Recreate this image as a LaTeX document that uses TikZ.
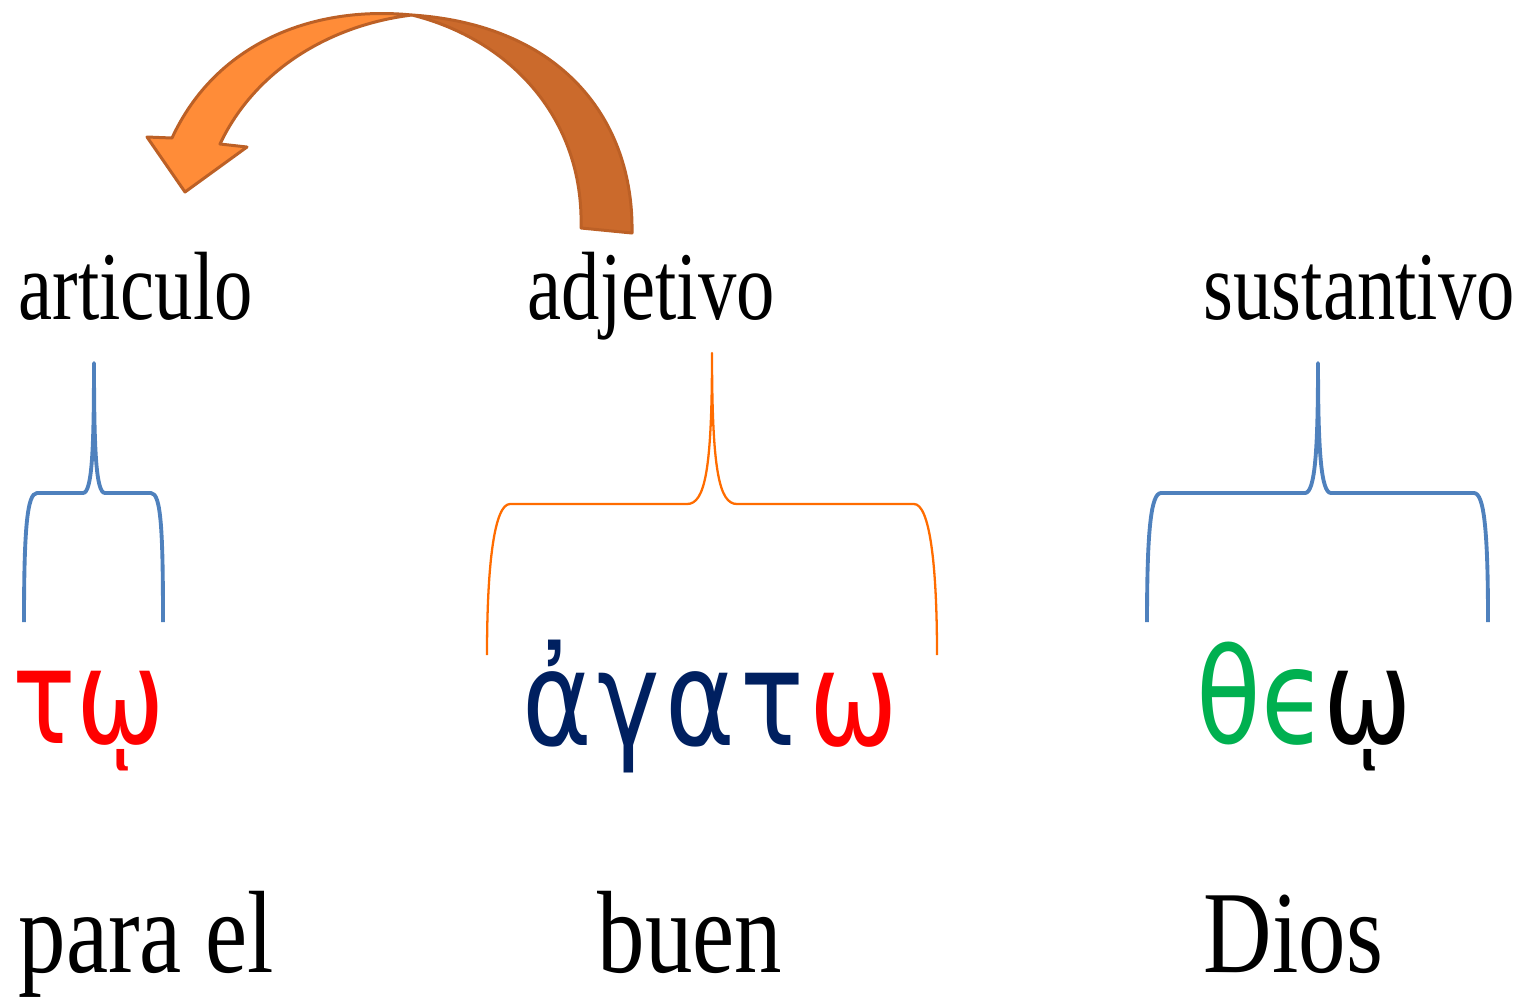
\documentclass[tikz,border=0pt]{standalone}
\usepackage{fontspec}
\setmainfont{Liberation Serif}
\newfontfamily\labelfont[FakeStretch=0.79]{Liberation Serif}
\newfontfamily\meaningfont[FakeStretch=0.81]{Liberation Serif}
\newfontfamily\greekfont[FakeStretch=0.8]{DejaVu Sans}
\definecolor{greekred}{RGB}{255,0,0}
\definecolor{greeknavy}{RGB}{0,32,96}
\definecolor{greekgreen}{RGB}{0,176,80}
\definecolor{braceblue}{RGB}{79,129,189}
\definecolor{braceorange}{RGB}{255,108,0}
\definecolor{arrowlight}{RGB}{255,140,56}
\definecolor{arrowdark}{RGB}{203,106,44}
\definecolor{arrowline}{RGB}{188,96,38}
\tikzset{
      rolelabel/.style={
        anchor=base west,
        inner sep=0pt,
        font=\labelfont\fontsize{27.6}{30}\selectfont
      },
      meaning/.style={
        anchor=base west,
        inner sep=0pt,
        font=\meaningfont\fontsize{33.3}{36}\selectfont
      },
      greekword/.style={
        anchor=base west,
        inner sep=0pt,
        font=\greekfont\fontsize{37.6}{40}\selectfont
      },
      bluebrace/.style={draw=braceblue, line width=1.1pt, line join=round},
      orangebrace/.style={draw=braceorange, line width=0.65pt, line join=round},
      arrowpart/.style={draw=arrowline, line width=0.85pt, line join=round}
    }
\begin{document}
\begin{tikzpicture}[x=0.01cm,y=-0.01cm]
    \useasboundingbox (0,0) rectangle (1519,999);
    % role labels
    \node[rolelabel] (art) at (18,319) {articulo};
    \node[rolelabel] (adj) at (527,319) {adjetivo};
    \node[rolelabel] (sus) at (1203,319) {sustantivo};
    % greek words
    \node[greekword] (w1) at (12,743) {\color{greekred}τῳ};
    \node[greekword] (w2) at (522,745) {\color{greeknavy}ἀ\kern1.5ptγ\kern1.5ptα\kern1.5ptτ\kern1.5pt\color{greekred}ω};
    \node[greekword] (w3) at (1196,743) {\color{greekgreen}θϵ\color{black}\kern-1ptῳ};
    % meanings
    \node[meaning] (m1) at (18,972) {para el};
    \node[meaning] (m2) at (597,972) {buen};
    \node[meaning] (m3) at (1203,972) {Dios};
    % braces
    \draw[bluebrace] (24,622) .. controls (24,530) and (27,493) .. (37,493) -- (83,493)
      .. controls (92,493) and (94,450) .. (94,363)
      .. controls (94,450) and (96,493) .. (105,493) -- (151,493)
      .. controls (161,493) and (163,530) .. (163,622);
    \draw[orangebrace] (487,655) .. controls (487,560) and (495,504) .. (510,504) -- (687,504)
      .. controls (705,504) and (712,470) .. (712,353)
      .. controls (712,470) and (719,504) .. (737,504) -- (914,504)
      .. controls (929,504) and (937,560) .. (937,655);
    \draw[bluebrace] (1147,622) .. controls (1147,530) and (1151,493) .. (1161,493) -- (1305,493)
      .. controls (1315,493) and (1318,450) .. (1318,363)
      .. controls (1318,450) and (1321,493) .. (1331,493) -- (1474,493)
      .. controls (1484,493) and (1488,530) .. (1488,622);
    % curved arrow
    \fill[arrowdark, arrowpart] (412,15) .. controls (562,25) and (634,120) .. (632,233)
      -- (581,228) .. controls (584,120) and (512,40) .. (412,15) -- cycle;
    \fill[arrowlight, arrowpart] (412,15) .. controls (310,5) and (215,45) .. (172,138)
      -- (147,137) -- (185,192) -- (247,147) -- (220,144)
      .. controls (255,70) and (330,25) .. (412,15) -- cycle;
    \end{tikzpicture}
\end{document}
